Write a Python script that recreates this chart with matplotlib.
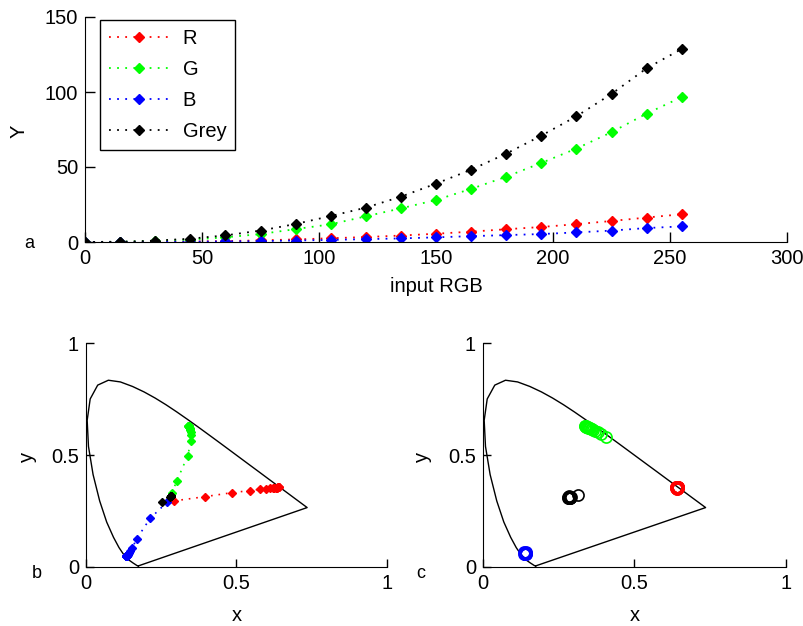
import numpy as np
import matplotlib
matplotlib.use('Agg')
import matplotlib.pyplot as plt

plt.rcParams['font.family'] = ['Liberation Sans', 'DejaVu Sans']
plt.rcParams['font.size'] = 14.5

# panel a: luminance Y against input level
rgb_in = [0, 15, 30, 45, 60, 75, 90, 105, 120, 135, 150, 165, 180, 195, 210, 225, 240, 255]
Y_R = [0, 0.0, 0.1, 0.3, 0.6, 1.1, 1.7, 2.5, 3.3, 4.3, 5.5, 6.9, 8.5, 10.0, 11.9, 14.0, 16.3, 18.5]
Y_G = [0, 0.1, 0.7, 1.6, 3.1, 5.3, 8.6, 11.8, 17.1, 22.4, 28.0, 35.4, 43.5, 52.7, 62.3, 73.2, 85.6, 96.6]
Y_B = [0, 0.0, 0.1, 0.2, 0.4, 0.6, 1.0, 1.4, 1.9, 2.4, 3.1, 3.9, 4.6, 5.3, 6.4, 7.6, 9.3, 10.4]
Y_grey = [0, 0.2, 0.9, 2.2, 4.4, 7.6, 12.0, 17.3, 22.9, 30.2, 38.9, 48.2, 58.9, 70.9, 83.8, 98.7, 115.8, 128.7]

# CIE 1931 spectral locus (380..700 nm), closed by the purple line
locus_x = [0.1741, 0.1738, 0.1733, 0.1726, 0.1714, 0.1689, 0.1644, 0.1566, 0.1440, 0.1241,
           0.1096, 0.0913, 0.0687, 0.0454, 0.0235, 0.0082, 0.0039, 0.0139, 0.0389, 0.0743,
           0.1142, 0.1547, 0.1929, 0.2296, 0.2658, 0.3016, 0.3373, 0.3731, 0.4087, 0.4441,
           0.4788, 0.5125, 0.5448, 0.5752, 0.6029, 0.6270, 0.6482, 0.6658, 0.6915, 0.7079,
           0.7190, 0.7260, 0.7300, 0.7334, 0.7347, 0.1741]
locus_y = [0.0050, 0.0049, 0.0048, 0.0048, 0.0051, 0.0069, 0.0109, 0.0177, 0.0297, 0.0578,
           0.0868, 0.1327, 0.2007, 0.2950, 0.4127, 0.5384, 0.6548, 0.7502, 0.8120, 0.8338,
           0.8262, 0.8059, 0.7816, 0.7543, 0.7243, 0.6923, 0.6589, 0.6245, 0.5896, 0.5547,
           0.5202, 0.4866, 0.4544, 0.4242, 0.3965, 0.3725, 0.3514, 0.3340, 0.3083, 0.2920,
           0.2809, 0.2740, 0.2700, 0.2666, 0.2653, 0.0050]

# panel b: chromaticity of each ramp (inputs 15..255)
b_red_x = [0.292, 0.395, 0.486, 0.544, 0.577, 0.598, 0.611, 0.620, 0.626, 0.630, 0.633, 0.635, 0.637, 0.638, 0.639, 0.640, 0.641]
b_red_y = [0.295, 0.314, 0.332, 0.341, 0.347, 0.350, 0.352, 0.353, 0.353, 0.354, 0.354, 0.354, 0.355, 0.355, 0.355, 0.355, 0.355]
b_green_x = [0.285, 0.301, 0.338, 0.349, 0.350, 0.348, 0.346, 0.345, 0.344, 0.343, 0.342, 0.342, 0.341, 0.341, 0.341, 0.340, 0.340]
b_green_y = [0.330, 0.382, 0.497, 0.564, 0.589, 0.603, 0.612, 0.618, 0.622, 0.625, 0.627, 0.628, 0.629, 0.630, 0.630, 0.631, 0.631]
b_blue_x = [0.270, 0.213, 0.168, 0.154, 0.147, 0.143, 0.140, 0.138, 0.137, 0.136, 0.135, 0.135, 0.134, 0.134, 0.134, 0.133, 0.133]
b_blue_y = [0.290, 0.217, 0.125, 0.086, 0.072, 0.064, 0.059, 0.055, 0.053, 0.051, 0.050, 0.049, 0.048, 0.048, 0.047, 0.047, 0.047]
b_grey_x = [0.254, 0.279, 0.281, 0.282, 0.283, 0.283, 0.283, 0.284, 0.284, 0.284, 0.284, 0.284, 0.284, 0.284, 0.284, 0.284, 0.284]
b_grey_y = [0.290, 0.313, 0.315, 0.316, 0.317, 0.317, 0.318, 0.318, 0.318, 0.318, 0.318, 0.318, 0.318, 0.318, 0.318, 0.318, 0.318]

# panel c: chromaticity after black-level correction
c_red_x = [0.636, 0.645, 0.640, 0.643, 0.638, 0.641, 0.644, 0.639, 0.642, 0.637, 0.641, 0.644, 0.640, 0.642, 0.638, 0.641, 0.641]
c_red_y = [0.352, 0.357, 0.349, 0.356, 0.358, 0.353, 0.351, 0.355, 0.359, 0.354, 0.350, 0.356, 0.354, 0.352, 0.356, 0.354, 0.354]
c_green_x = [0.406, 0.390, 0.378, 0.370, 0.364, 0.359, 0.355, 0.352, 0.349, 0.347, 0.345, 0.343, 0.341, 0.340, 0.339, 0.338, 0.337]
c_green_y = [0.582, 0.593, 0.601, 0.607, 0.611, 0.614, 0.617, 0.619, 0.621, 0.622, 0.624, 0.625, 0.626, 0.627, 0.628, 0.628, 0.629]
c_blue_x = [0.135, 0.143, 0.138, 0.141, 0.136, 0.140, 0.142, 0.137, 0.139, 0.139, 0.140, 0.138, 0.139, 0.141, 0.137, 0.139, 0.139]
c_blue_y = [0.060, 0.065, 0.057, 0.063, 0.066, 0.059, 0.058, 0.062, 0.064, 0.061, 0.060, 0.063, 0.061, 0.060, 0.062, 0.061, 0.061]
c_grey_x = [0.313, 0.281, 0.289, 0.284, 0.287, 0.282, 0.286, 0.285, 0.283, 0.288, 0.285, 0.286, 0.284, 0.285, 0.287, 0.283, 0.285]
c_grey_y = [0.322, 0.309, 0.314, 0.307, 0.312, 0.313, 0.309, 0.311, 0.315, 0.310, 0.312, 0.311, 0.310, 0.311, 0.308, 0.312, 0.311]

dots = (0, (1, 3.5))

fig = plt.figure(figsize=(8.04, 6.26), dpi=100)

def style(ax):
    ax.spines['top'].set_visible(False)
    ax.spines['right'].set_visible(False)
    ax.tick_params(direction='in', length=7, width=1, pad=5, labelsize=14.5)

# a
ax = fig.add_axes([85/804, 1-242/626, 702/804, 225/626])
style(ax)
for ys, c, lab in [(Y_R, 'r', 'R'), (Y_G, '#00ff00', 'G'), (Y_B, 'b', 'B'), (Y_grey, 'k', 'Grey')]:
    ax.plot(rgb_in, ys, linestyle=dots, lw=1.3, color=c, marker='D', ms=5, label=lab)
ax.set_xlim(0, 300)
ax.set_ylim(0, 150)
ax.set_xticks([0, 50, 100, 150, 200, 250, 300])
ax.set_yticks([0, 50, 100, 150])
ax.set_xlabel('input RGB')
ax.set_ylabel('Y')
ax.xaxis.set_label_coords(0.5, -0.155)
ax.yaxis.set_label_coords(-0.081, 0.49)
leg = ax.legend(loc='upper left', bbox_to_anchor=(100/804, 1-20/626), bbox_transform=fig.transFigure,
                borderaxespad=0, fancybox=False, edgecolor='k', framealpha=1,
                handlelength=3.0, handletextpad=0.65, labelspacing=0.6, borderpad=0.45)
leg.get_frame().set_linewidth(1)

# b and c
axb = fig.add_axes([86/804, 1-567/626, 301/804, 224/626])
axc = fig.add_axes([483/804, 1-567/626, 303/804, 224/626])
for a, ylx in [(axb, -0.163), (axc, -0.17)]:
    style(a)
    a.tick_params(length=6)
    a.plot(locus_x, locus_y, color='k', lw=1)
    a.set_xlim(0, 1)
    a.set_ylim(0, 1)
    a.set_xticks([0, 0.5, 1])
    a.set_yticks([0, 0.5, 1])
    a.set_xticklabels(['0', '0.5', '1'])
    a.set_yticklabels(['0', '0.5', '1'])
    a.set_xlabel('x')
    a.set_ylabel('y')
    a.xaxis.set_label_coords(0.5, -0.172)
    a.yaxis.set_label_coords(ylx, 0.49)

for xs, ys, c in [(b_red_x, b_red_y, 'r'), (b_green_x, b_green_y, '#00ff00'),
                  (b_blue_x, b_blue_y, 'b'), (b_grey_x, b_grey_y, 'k')]:
    axb.plot(xs, ys, linestyle=dots, lw=1.2, color=c, marker='D', ms=4.3)

for xs, ys, c in [(c_red_x, c_red_y, 'r'), (c_green_x, c_green_y, '#00ff00'),
                  (c_blue_x, c_blue_y, 'b'), (c_grey_x, c_grey_y, 'k')]:
    axc.plot(xs, ys, linestyle='none', marker='o', ms=8, mfc='none', mec=c, mew=1.2)

fig.text(29/804, 1-243/626, 'a', ha='center', va='center', fontsize=13)
fig.text(37/804, 1-573/626, 'b', ha='center', va='center', fontsize=13)
fig.text(421/804, 1-573/626, 'c', ha='center', va='center', fontsize=13)

fig.savefig('out.png', dpi=100)
